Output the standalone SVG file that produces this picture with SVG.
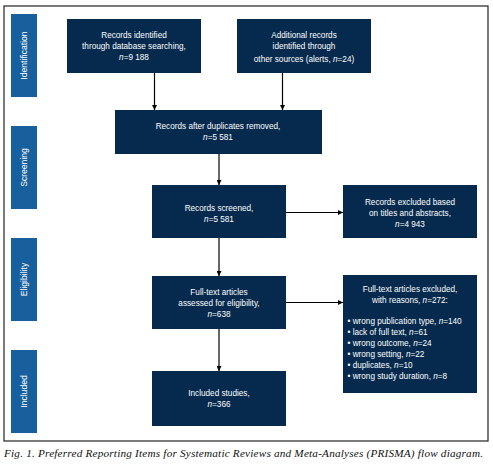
<svg xmlns="http://www.w3.org/2000/svg" width="493" height="468" viewBox="0 0 493 468">
<style>
.box{fill:#062a4e}
.bar{fill:#175f9d}
.t{font-family:"Liberation Sans",Arial,sans-serif;font-size:8.2px;fill:#fff;text-anchor:middle}
.l{font-family:"Liberation Sans",Arial,sans-serif;font-size:8.2px;fill:#fff}
.s{font-family:"Liberation Sans",Arial,sans-serif;font-size:8.6px;fill:#fff;text-anchor:middle}
.c{stroke:#000;stroke-width:1.2;fill:none}
</style>
<defs>
<marker id="ah" viewBox="0 0 10 10" refX="10" refY="5" markerWidth="5" markerHeight="5" markerUnits="userSpaceOnUse" orient="auto">
<path d="M0,0 L10,5 L0,10 z" fill="#000"/>
</marker>
</defs>
<rect width="493" height="468" fill="#fff"/>
<rect x="4" y="6" width="484" height="435" fill="none" stroke="#222" stroke-width="1.2"/>
<g id="stage-identification"><rect class="bar" x="11" y="14" width="26" height="83"/><text class="s" transform="translate(27,55.5) rotate(-90)">Identification</text></g>
<g id="stage-screening"><rect class="bar" x="11" y="126" width="26" height="83"/><text class="s" transform="translate(27,167.5) rotate(-90)">Screening</text></g>
<g id="stage-eligibility"><rect class="bar" x="11" y="238" width="26" height="83"/><text class="s" transform="translate(27,279.5) rotate(-90)">Eligibility</text></g>
<g id="stage-included"><rect class="bar" x="11" y="350" width="26" height="83"/><text class="s" transform="translate(27,391.5) rotate(-90)">Included</text></g>
<g id="connectors">
<line class="c" x1="154.5" y1="73" x2="154.5" y2="110" marker-end="url(#ah)"/>
<line class="c" x1="282.5" y1="73" x2="282.5" y2="110" marker-end="url(#ah)"/>
<line class="c" x1="219" y1="154" x2="219" y2="185" marker-end="url(#ah)"/>
<line class="c" x1="219" y1="238" x2="219" y2="276" marker-end="url(#ah)"/>
<line class="c" x1="219" y1="329" x2="219" y2="371" marker-end="url(#ah)"/>
<line class="c" x1="286" y1="212.5" x2="343" y2="212.5" marker-end="url(#ah)"/>
<line class="c" x1="286" y1="302.5" x2="343" y2="302.5" marker-end="url(#ah)"/>
</g>
<g id="db-search"><rect class="box" x="67" y="19" width="134" height="54"/>
<text class="t" x="134" y="37.5">Records identified</text>
<text class="t" x="134" y="48.5">through database searching,</text>
<text class="t" x="134" y="59.5"><tspan font-style="italic">n</tspan>=9 188</text></g>
<g id="other-sources"><rect class="box" x="237" y="19" width="134" height="54"/>
<text class="t" x="304" y="38">Additional records</text>
<text class="t" x="304" y="49">identified through</text>
<text class="t" x="304" y="62">other sources (alerts, <tspan font-style="italic">n</tspan>=24)</text></g>
<g id="dedup"><rect class="box" x="115" y="110" width="207" height="44"/>
<text class="t" x="218" y="129">Records after duplicates removed,</text>
<text class="t" x="218" y="140"><tspan font-style="italic">n</tspan>=5 581</text></g>
<g id="screened"><rect class="box" x="152" y="185" width="134" height="53"/>
<text class="t" x="219" y="211">Records screened,</text>
<text class="t" x="219" y="222"><tspan font-style="italic">n</tspan>=5 581</text></g>
<g id="excluded-abstracts"><rect class="box" x="343" y="185" width="134" height="53"/>
<text class="t" x="410" y="205">Records excluded based</text>
<text class="t" x="410" y="216">on titles and abstracts,</text>
<text class="t" x="410" y="227"><tspan font-style="italic">n</tspan>=4 943</text></g>
<g id="fulltext"><rect class="box" x="152" y="276" width="134" height="53"/>
<text class="t" x="219" y="295">Full-text articles</text>
<text class="t" x="219" y="306">assessed for eligibility,</text>
<text class="t" x="219" y="317"><tspan font-style="italic">n</tspan>=638</text></g>
<g id="excluded-fulltext"><rect class="box" x="343" y="275" width="134" height="118"/>
<text class="t" x="410" y="292">Full-text articles excluded,</text>
<text class="t" x="410" y="303">with reasons, <tspan font-style="italic">n</tspan>=272:</text>
<text class="l" x="347.5" y="324">• wrong publication type, <tspan font-style="italic">n</tspan>=140</text>
<text class="l" x="347.5" y="335">• lack of full text, <tspan font-style="italic">n</tspan>=61</text>
<text class="l" x="347.5" y="346">• wrong outcome, <tspan font-style="italic">n</tspan>=24</text>
<text class="l" x="347.5" y="357">• wrong setting, <tspan font-style="italic">n</tspan>=22</text>
<text class="l" x="347.5" y="368">• duplicates, <tspan font-style="italic">n</tspan>=10</text>
<text class="l" x="347.5" y="379">• wrong study duration, <tspan font-style="italic">n</tspan>=8</text></g>
<g id="included"><rect class="box" x="152" y="371" width="134" height="55"/>
<text class="t" x="219" y="396">Included studies,</text>
<text class="t" x="219" y="407"><tspan font-style="italic">n</tspan>=366</text></g>
<text x="4" y="457" font-family="'Liberation Serif','Times New Roman',serif" font-style="italic" font-size="11.2" fill="#111" textLength="479" lengthAdjust="spacing">Fig. 1. Preferred Reporting Items for Systematic Reviews and Meta-Analyses (PRISMA) flow diagram.</text>
</svg>
